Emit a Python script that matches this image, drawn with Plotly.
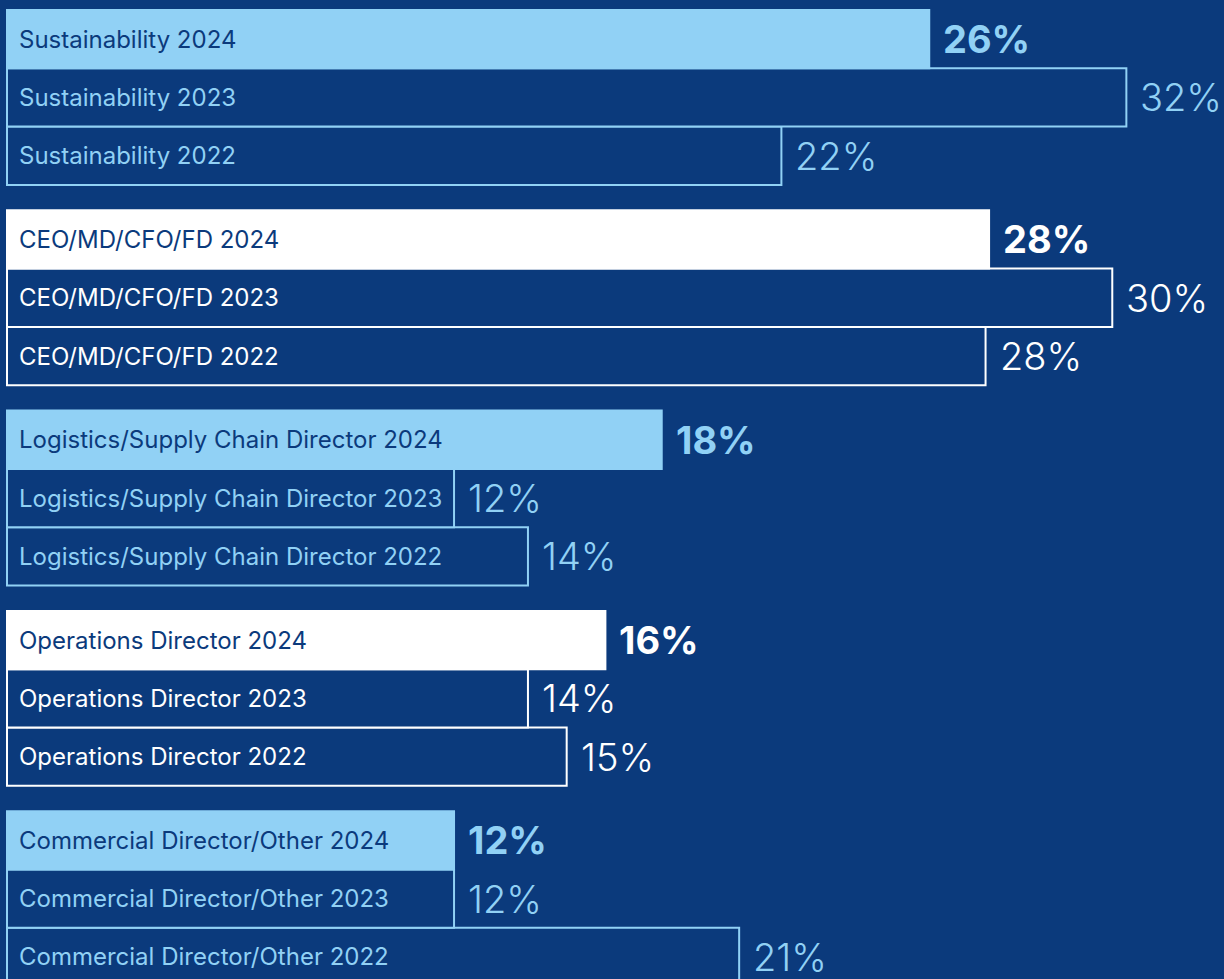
import plotly.graph_objects as go

# roles, top to bottom
roles = ['Sustainability', 'CEO/MD/CFO/FD', 'Logistics/Supply Chain Director',
         'Operations Director', 'Commercial Director/Other']
years = ['2024', '2023', '2022']

# percent labels as printed
pct_2024 = [26, 28, 18, 16, 12]
pct_2023 = [32, 30, 12, 14, 12]
pct_2022 = [22, 28, 14, 15, 21]

# bar lengths as drawn (the artwork is not exactly to scale)
len_2024 = [26.2, 27.9, 18.6, 17.0, 12.7]
len_2023 = [31.8, 31.4, 12.7, 14.8, 12.7]
len_2022 = [22.0, 27.8, 14.8, 15.9, 20.8]

NAVY = '#0b3a7c'
SKY = '#91d1f5'
WHITE = '#ffffff'
accent = [SKY, WHITE, SKY, WHITE, SKY]

W, H = 1224, 979
PX = 35.2          # pixels per percent point
X0 = 7             # pixel of the zero line
GROUP = 200.3      # pixel step between groups
TOP = 10
BAR = 58.3

xs, ys, fills, lines, anns = [], [], [], [], []
for g, role in enumerate(roles):
    rows = [(years[0], len_2024[g], pct_2024[g]),
            (years[1], len_2023[g], pct_2023[g]),
            (years[2], len_2022[g], pct_2022[g])]
    for i, (yr, ln, p) in enumerate(rows):
        yc = TOP + GROUP * g + BAR * (i + 0.5)
        xs.append(ln)
        ys.append(yc)
        filled = i == 0
        fills.append(accent[g] if filled else NAVY)
        lines.append(accent[g])
        anns.append(dict(
            x=0, y=yc, xref='x', yref='y', text=f'{role} {yr}',
            xanchor='left', yanchor='middle', xshift=10, showarrow=False,
            font=dict(family='Inter', size=24, color=NAVY if filled else accent[g])))
        anns.append(dict(
            x=ln, y=yc, xref='x', yref='y', text=f'{p}%',
            xanchor='left', yanchor='middle', xshift=12, showarrow=False,
            font=dict(family='Inter', size=38, color=accent[g],
                      weight=700 if filled else 300)))

# draw bottom rows first so the filled 2024 bars sit on top
order = sorted(range(len(xs)), key=lambda k: -(k % 3))
fig = go.Figure(go.Bar(
    x=[xs[k] for k in order], y=[ys[k] for k in order], orientation='h', width=BAR,
    marker=dict(color=[fills[k] for k in order],
                line=dict(color=[lines[k] for k in order], width=2)),
    hoverinfo='skip'))

fig.update_layout(
    width=W, height=H, margin=dict(l=0, r=0, t=0, b=0),
    paper_bgcolor=NAVY, plot_bgcolor=NAVY, showlegend=False,
    annotations=anns,
    xaxis=dict(range=[-X0 / PX, (W - X0) / PX], visible=False, fixedrange=True),
    yaxis=dict(range=[H, 0], visible=False, fixedrange=True))

fig.write_html('out.html', config={'displayModeBar': False},
               post_script="document.body.style.margin='0';"
                           "document.body.style.overflow='hidden';")
